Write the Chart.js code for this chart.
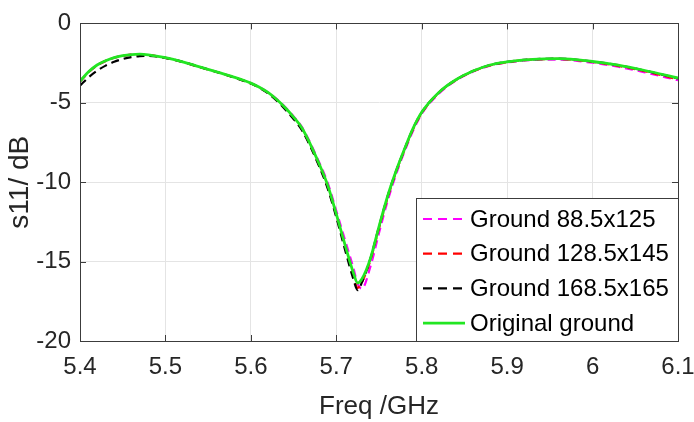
<!DOCTYPE html>
<html>
<head>
<meta charset="utf-8">
<script src="https://cdn.jsdelivr.net/npm/chart.js@4/dist/chart.umd.min.js"></script>
<style>
  html, body { margin: 0; padding: 0; background: #ffffff; }
  #wrap { width: 694px; height: 422px; }
</style>
</head>
<body>
<div id="wrap"><canvas id="c" width="694" height="422"></canvas></div>
<script>
// Frequency samples (GHz)
const freq = [5.40, 5.41, 5.42, 5.43, 5.44, 5.45, 5.46, 5.47, 5.48, 5.50,
              5.52, 5.54, 5.56, 5.58, 5.60, 5.61, 5.62, 5.63, 5.64, 5.65,
              5.66, 5.68, 5.69, 5.70, 5.71, 5.72, 5.725, 5.73, 5.74, 5.75,
              5.76, 5.77, 5.78, 5.79, 5.80, 5.82, 5.84, 5.86, 5.88, 5.90,
              5.93, 5.96, 6.00, 6.03, 6.06, 6.10];

// S11 (dB) for each ground plane size
const s11Ground88 = [-3.66, -3.07, -2.64, -2.36, -2.16, -2.04, -1.97, -1.95, -1.99, -2.17,
                     -2.43, -2.75, -3.06, -3.39, -3.77, -4.02, -4.34, -4.75, -5.26, -5.86,
                     -6.55, -8.75, -10.05, -11.8, -13.6, -15.4, -16.4, -16.7, -15.3, -13.2,
                     -11.2, -9.5, -8.05, -6.75, -5.70, -4.42, -3.60, -3.04, -2.66, -2.46,
                     -2.31, -2.28, -2.48, -2.73, -3.07, -3.58];
const s11Ground128 = [-3.66, -3.07, -2.64, -2.36, -2.16, -2.04, -1.97, -1.95, -1.99, -2.17,
                      -2.43, -2.75, -3.06, -3.40, -3.78, -4.04, -4.38, -4.82, -5.36, -5.98,
                      -6.70, -8.95, -10.3, -12.1, -14.0, -15.9, -16.65, -16.3, -14.9, -12.9,
                      -11.0, -9.35, -7.95, -6.65, -5.65, -4.38, -3.57, -3.02, -2.64, -2.44,
                      -2.28, -2.24, -2.43, -2.67, -3.00, -3.52];
const s11Ground168 = [-3.92, -3.40, -2.98, -2.66, -2.42, -2.24, -2.12, -2.06, -2.04, -2.17,
                      -2.42, -2.74, -3.06, -3.40, -3.78, -4.05, -4.40, -4.85, -5.40, -6.02,
                      -6.74, -9.0, -10.4, -12.2, -14.2, -16.1, -16.8, -16.3, -14.8, -12.8,
                      -10.9, -9.3, -7.9, -6.6, -5.6, -4.35, -3.55, -3.00, -2.62, -2.42,
                      -2.26, -2.22, -2.40, -2.63, -2.96, -3.46];
const s11Original = [-3.64, -3.05, -2.62, -2.35, -2.15, -2.03, -1.96, -1.94, -1.98, -2.16,
                     -2.42, -2.74, -3.05, -3.38, -3.76, -4.02, -4.35, -4.78, -5.30, -5.90,
                     -6.60, -8.85, -10.2, -12.0, -13.9, -15.7, -16.35, -16.1, -14.8, -12.8,
                     -10.9, -9.3, -7.9, -6.6, -5.6, -4.35, -3.55, -3.00, -2.62, -2.42,
                     -2.26, -2.22, -2.40, -2.63, -2.95, -3.44];

const seriesLabels = ['Ground 88.5x125', 'Ground 128.5x145', 'Ground 168.5x165', 'Original ground'];

// Axis ticks
const xTickValues = [5.4, 5.5, 5.6, 5.7, 5.8, 5.9, 6.0, 6.1];
const xTickLabels = ['5.4', '5.5', '5.6', '5.7', '5.8', '5.9', '6', '6.1'];
const yTickValues = [0, -5, -10, -15, -20];
const yTickLabels = ['0', '-5', '-10', '-15', '-20'];

const FONT = '"Liberation Sans", Arial, Helvetica, sans-serif';
const AXIS_COLOR = '#3c3c3c';
const TEXT_COLOR = '#262626';
const GRID_COLOR = '#e4e4e4';
const TICK_FONT = { family: FONT, size: 24 };

function pts(ys) { return freq.map((f, i) => ({ x: f, y: ys[i] })); }

const styles = [
  { color: '#ff00ff', dash: [8, 5], order: 3 },
  { color: '#ff0000', dash: [8, 5], order: 2 },
  { color: '#000000', dash: [8, 5], order: 1 },
  { color: '#22e622', dash: [],     order: 0 }
];
const seriesData = [s11Ground88, s11Ground128, s11Ground168, s11Original];

const datasets = seriesData.map((ys, i) => ({
  label: seriesLabels[i],
  data: pts(ys),
  borderColor: styles[i].color,
  backgroundColor: styles[i].color,
  borderDash: styles[i].dash,
  borderWidth: i === 3 ? 2.8 : 2.2,
  pointRadius: 0,
  fill: false,
  cubicInterpolationMode: 'monotone',
  order: styles[i].order
}));

// Full box around the plot with small inward tick marks
const boxPlugin = {
  id: 'boxFrame',
  afterDatasetsDraw(chart) {
    const { ctx, chartArea: a, scales } = chart;
    ctx.save();
    ctx.strokeStyle = AXIS_COLOR;
    ctx.lineWidth = 1;
    ctx.beginPath();
    const L = 6;
    xTickValues.forEach(v => {
      const x = Math.round(scales.x.getPixelForValue(v)) + 0.5;
      ctx.moveTo(x, a.top); ctx.lineTo(x, a.top + L);
      ctx.moveTo(x, a.bottom); ctx.lineTo(x, a.bottom - L);
    });
    yTickValues.forEach(v => {
      const y = Math.round(scales.y.getPixelForValue(v)) + 0.5;
      ctx.moveTo(a.left, y); ctx.lineTo(a.left + L, y);
      ctx.moveTo(a.right, y); ctx.lineTo(a.right - L, y);
    });
    ctx.stroke();
    ctx.strokeRect(Math.round(a.left) + 0.5, Math.round(a.top) + 0.5,
                   Math.round(a.right - a.left), Math.round(a.bottom - a.top));
    ctx.restore();
  }
};

// Legend drawn in the lower right corner of the plot area
const legendPlugin = {
  id: 'insideLegend',
  afterDraw(chart) {
    const { ctx, chartArea: a } = chart;
    const w = 262, h = 143;
    const x0 = Math.round(a.right - w), y0 = Math.round(a.bottom - h);
    ctx.save();
    ctx.fillStyle = '#ffffff';
    ctx.fillRect(x0, y0, w, h);
    ctx.strokeStyle = AXIS_COLOR;
    ctx.lineWidth = 1;
    ctx.strokeRect(x0 + 0.5, y0 + 0.5, w, h);
    ctx.font = '24px ' + FONT;
    ctx.textBaseline = 'middle';
    ctx.textAlign = 'left';
    chart.data.datasets.forEach((ds, i) => {
      const y = y0 + 21 + i * 34.7;
      ctx.beginPath();
      ctx.strokeStyle = ds.borderColor;
      ctx.lineWidth = ds.borderDash.length ? 2.2 : 2.6;
      ctx.setLineDash(ds.borderDash.length ? [9, 6] : []);
      ctx.moveTo(x0 + 7, y);
      ctx.lineTo(x0 + 49, y);
      ctx.stroke();
      ctx.setLineDash([]);
      ctx.fillStyle = '#000000';
      ctx.fillText(ds.label, x0 + 54, y + 1);
    });
    ctx.restore();
  }
};

new Chart(document.getElementById('c'), {
  type: 'line',
  data: { datasets },
  options: {
    responsive: false,
    devicePixelRatio: 1,
    animation: false,
    events: [],
    layout: { padding: { top: 17, right: 16, left: 0, bottom: 0 } },
    plugins: { legend: { display: false }, tooltip: { enabled: false } },
    scales: {
      x: {
        type: 'linear',
        min: 5.4,
        max: 6.1,
        afterBuildTicks: s => { s.ticks = xTickValues.map(v => ({ value: v })); },
        afterFit: s => { s.height = 81; s.paddingLeft = 0; s.paddingRight = 0; },
        grid: { color: GRID_COLOR, drawTicks: false, lineWidth: 1 },
        border: { display: true, color: AXIS_COLOR },
        ticks: {
          autoSkip: false,
          maxRotation: 0,
          padding: 12,
          color: TEXT_COLOR,
          font: TICK_FONT,
          callback: (v, i) => xTickLabels[i]
        },
        title: {
          display: true,
          text: 'Freq /GHz',
          color: TEXT_COLOR,
          font: { family: FONT, size: 26 },
          padding: { top: 0, bottom: 0 }
        }
      },
      y: {
        min: -20,
        max: 0,
        afterBuildTicks: s => { s.ticks = yTickValues.map(v => ({ value: v })); },
        afterFit: s => { s.width = 80; },
        grid: { color: GRID_COLOR, drawTicks: false, lineWidth: 1 },
        border: { display: true, color: AXIS_COLOR },
        ticks: {
          autoSkip: false,
          padding: 9,
          color: TEXT_COLOR,
          font: TICK_FONT,
          callback: (v, i) => yTickLabels[i]
        },
        title: {
          display: true,
          text: 's11/ dB',
          color: TEXT_COLOR,
          font: { family: FONT, size: 28 },
          padding: { top: 3, bottom: 0 }
        }
      }
    }
  },
  plugins: [boxPlugin, legendPlugin]
});
</script>
</body>
</html>
